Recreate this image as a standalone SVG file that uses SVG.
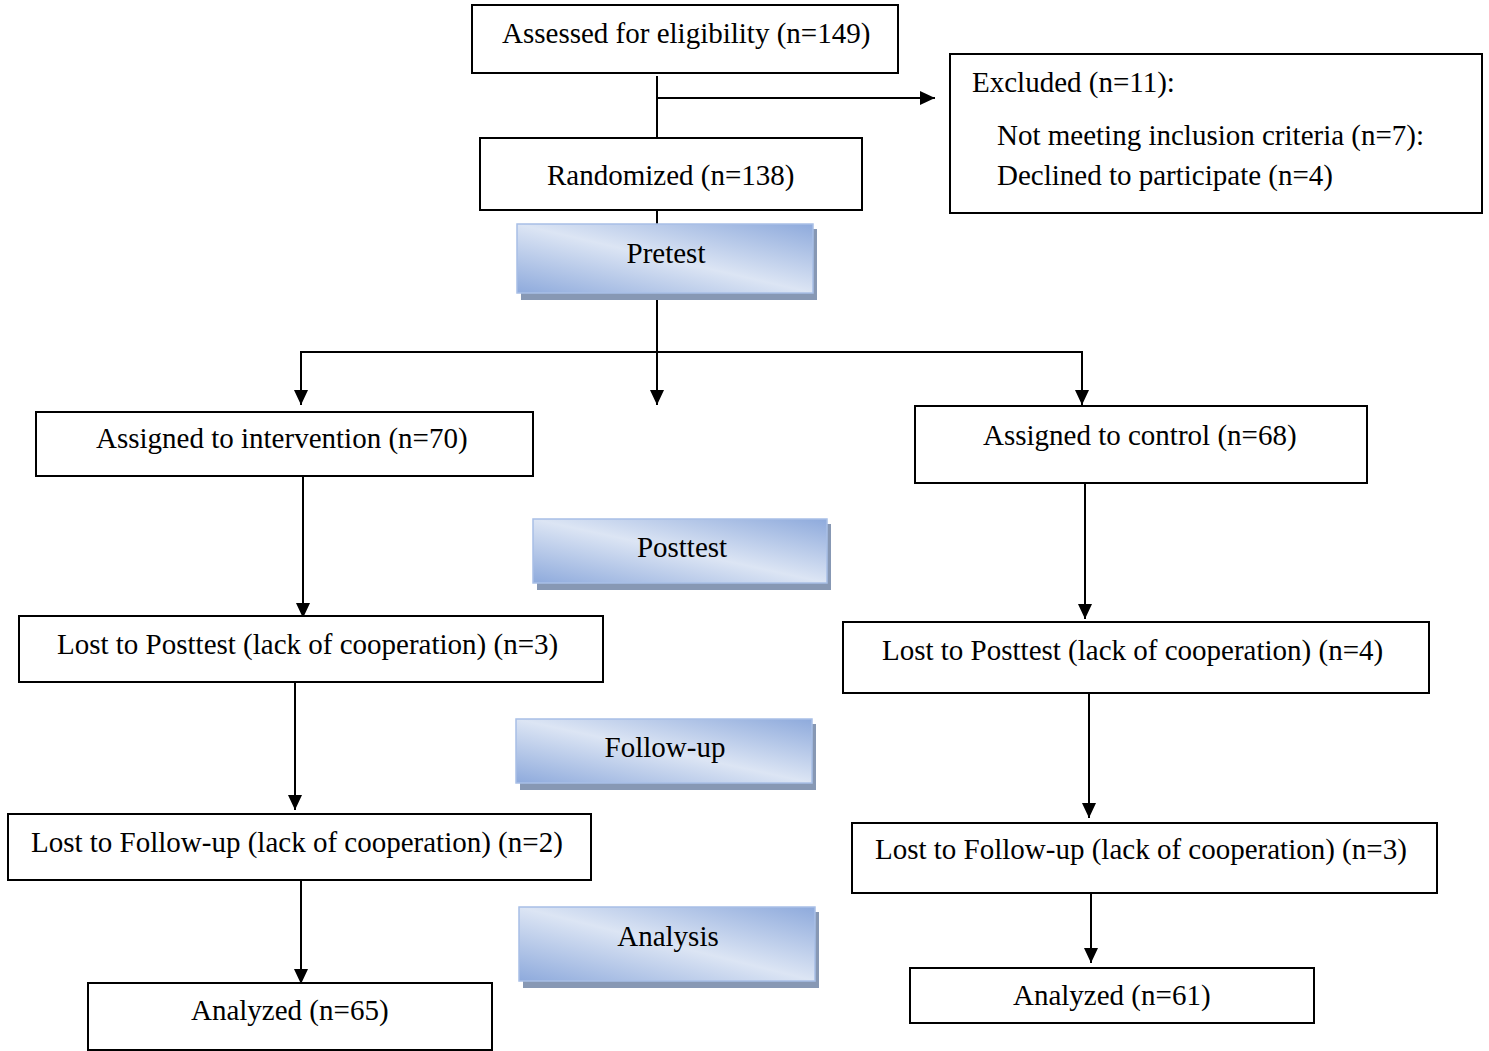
<svg xmlns="http://www.w3.org/2000/svg" width="1489" height="1051" viewBox="0 0 1489 1051">
<style>
.box{fill:#fff;stroke:#000;stroke-width:2}
.gbox{fill:url(#g);stroke:#a8bfe6;stroke-width:1.5}
.sh{fill:#8798b4}
.t{font-family:"Liberation Serif","Times New Roman",serif;font-size:29px;fill:#000}
.c{text-anchor:middle}
.ln{stroke:#000;stroke-width:2;fill:none}
.ar{marker-end:url(#ah)}
</style>
<defs>
<linearGradient id="g" x1="0" y1="1" x2="1" y2="0">
<stop offset="0" stop-color="#8eaadc"/>
<stop offset="0.5" stop-color="#dce5f4"/>
<stop offset="1" stop-color="#8eaadc"/>
</linearGradient>
<marker id="ah" markerUnits="userSpaceOnUse" markerWidth="15" markerHeight="14" refX="15" refY="7" orient="auto">
<path d="M0,0 L15,7 L0,14 z" fill="#000"/>
</marker>
</defs>
<g id="connectors">
<line class="ln" x1="657" y1="76" x2="657" y2="138"/>
<line class="ln ar" x1="657" y1="98" x2="935" y2="98"/>
<line class="ln" x1="657" y1="210" x2="657" y2="224"/>
<line class="ln ar" x1="657" y1="293" x2="657" y2="405"/>
<line class="ln" x1="300" y1="352" x2="1082" y2="352"/>
<line class="ln ar" x1="301" y1="351" x2="301" y2="405"/>
<line class="ln ar" x1="1082" y1="351" x2="1082" y2="405"/>
<line class="ln ar" x1="303" y1="476" x2="303" y2="618"/>
<line class="ln ar" x1="1085" y1="483" x2="1085" y2="619"/>
<line class="ln ar" x1="295" y1="682" x2="295" y2="810"/>
<line class="ln ar" x1="1089" y1="693" x2="1089" y2="818"/>
<line class="ln ar" x1="301" y1="880" x2="301" y2="984"/>
<line class="ln ar" x1="1091" y1="893" x2="1091" y2="963"/>
</g>
<g id="assessed"><rect class="box" x="472" y="5" width="426" height="68"/><text class="t" x="502" y="43">Assessed for eligibility (n=149)</text></g>
<g id="excluded"><rect class="box" x="950" y="54" width="532" height="159"/>
<text class="t" x="972" y="92">Excluded (n=11):</text>
<text class="t" x="997" y="145">Not meeting inclusion criteria (n=7):</text>
<text class="t" x="997" y="185">Declined to participate (n=4)</text></g>
<g id="randomized"><rect class="box" x="480" y="138" width="382" height="72"/><text class="t" x="547" y="185">Randomized (n=138)</text></g>
<g id="pretest"><rect class="sh" x="521" y="229" width="296" height="71"/><rect class="gbox" x="517" y="224" width="296" height="69"/><text class="t c" x="666" y="263">Pretest</text></g>
<g id="intervention"><rect class="box" x="36" y="412" width="497" height="64"/><text class="t" x="96" y="448">Assigned to intervention (n=70)</text></g>
<g id="control"><rect class="box" x="915" y="406" width="452" height="77"/><text class="t" x="983" y="445">Assigned to control (n=68)</text></g>
<g id="posttest"><rect class="sh" x="537" y="524" width="294" height="66"/><rect class="gbox" x="533" y="519" width="294" height="64"/><text class="t c" x="682" y="557">Posttest</text></g>
<g id="lost-posttest-int"><rect class="box" x="19" y="616" width="584" height="66"/><text class="t" x="57" y="654">Lost to Posttest (lack of cooperation) (n=3)</text></g>
<g id="lost-posttest-ctl"><rect class="box" x="843" y="622" width="586" height="71"/><text class="t" x="882" y="660">Lost to Posttest (lack of cooperation) (n=4)</text></g>
<g id="followup"><rect class="sh" x="520" y="724" width="296" height="66"/><rect class="gbox" x="516" y="719" width="296" height="64"/><text class="t c" x="665" y="757">Follow-up</text></g>
<g id="lost-followup-int"><rect class="box" x="8" y="814" width="583" height="66"/><text class="t" x="31" y="852">Lost to Follow-up (lack of cooperation) (n=2)</text></g>
<g id="lost-followup-ctl"><rect class="box" x="852" y="823" width="585" height="70"/><text class="t" x="875" y="859">Lost to Follow-up (lack of cooperation) (n=3)</text></g>
<g id="analysis"><rect class="sh" x="523" y="912" width="296" height="76"/><rect class="gbox" x="519" y="907" width="296" height="74"/><text class="t c" x="668" y="946">Analysis</text></g>
<g id="analyzed-int"><rect class="box" x="88" y="983" width="404" height="67"/><text class="t" x="191" y="1020">Analyzed (n=65)</text></g>
<g id="analyzed-ctl"><rect class="box" x="910" y="968" width="404" height="55"/><text class="t" x="1013" y="1005">Analyzed (n=61)</text></g>
</svg>
